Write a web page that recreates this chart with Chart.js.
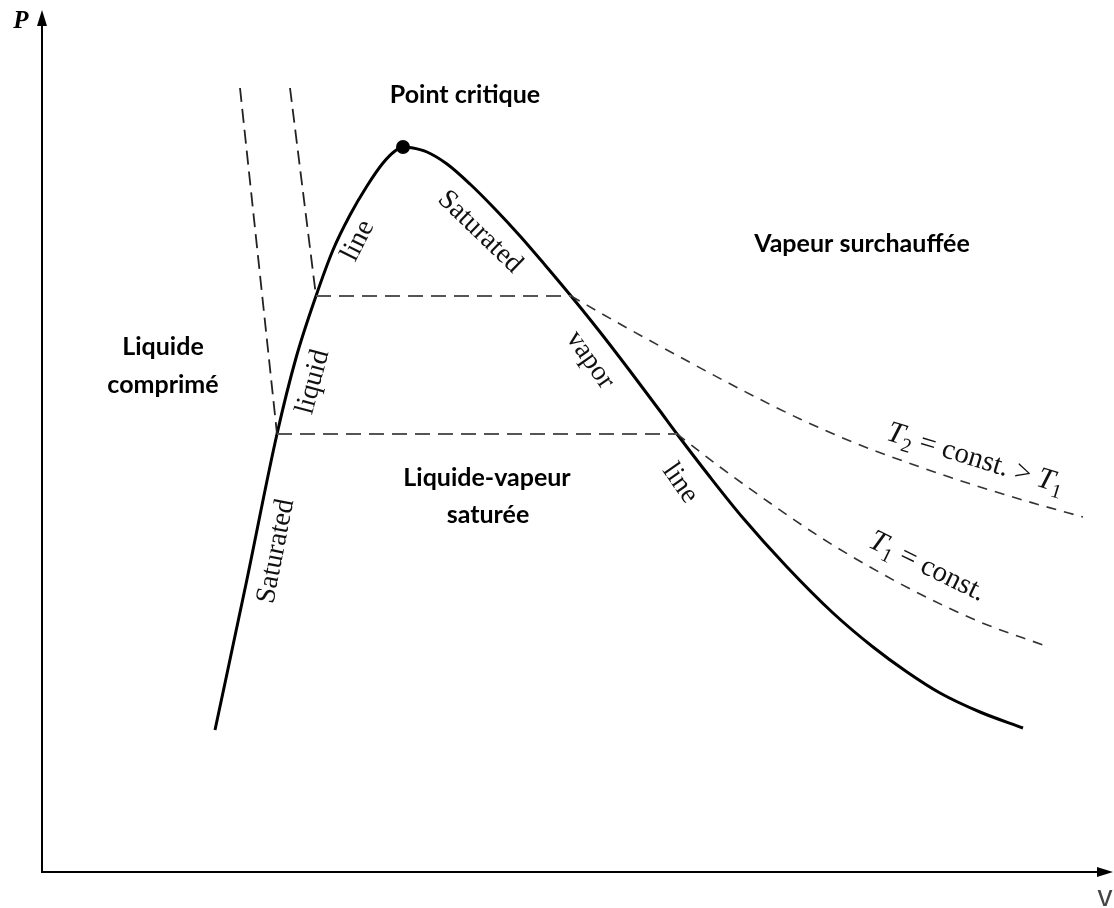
<!DOCTYPE html>
<html>
<head>
<meta charset="utf-8">
<title>Diagramme P-v</title>
<script src="https://cdn.jsdelivr.net/npm/chart.js@4.4.1/dist/chart.umd.min.js"></script>
<style>
  html, body { margin: 0; padding: 0; background: #ffffff; }
  #wrap { position: relative; width: 1114px; height: 908px; }
</style>
</head>
<body>
<div id="wrap"><canvas id="pv"></canvas></div>
<script>
// Saturation dome (specific volume v, pressure P, arbitrary units)
const domeV = [17.3, 20.4, 23.5, 25.4, 27.4, 29.1, 30.8, 32.5, 34.1, 35.3, 36.1, 37.1, 38.5, 40.5, 42.8, 45.3, 47.8, 50.3, 52.9, 55.8, 58.8, 61.8, 63.5, 66.8, 70.1, 74.5, 79.1, 83.1, 86.5, 89.8, 93.8, 98.1];
const domeP = [17.75, 36.0, 54.75, 64.25, 72.0, 77.75, 82.125, 85.75, 88.625, 90.125, 90.625, 90.5, 90.0, 88.5, 86.0, 82.875, 79.5, 75.875, 72.0, 67.5, 62.625, 57.625, 54.75, 49.375, 44.25, 38.125, 32.375, 28.125, 25.0, 22.375, 20.0, 18.0];

// Critical point
const criticalV = [36.1];
const criticalP = [90.625];

// Isotherm T2 (higher temperature)
const t2LiquidV = [24.8, 27.4];
const t2LiquidP = [98.0, 72.0];
const t2MixV = [27.4, 52.9];
const t2MixP = [72.0, 72.0];
const t2VaporV = [52.9, 57.8, 63.8, 69.8, 75.8, 81.8, 87.8, 93.8, 99.8, 104.1];
const t2VaporP = [72.0, 68.5, 64.375, 60.375, 56.625, 53.375, 50.625, 48.125, 45.875, 44.375];

// Isotherm T1
const t1LiquidV = [19.8, 23.5];
const t1LiquidP = [98.0, 54.75];
const t1MixV = [23.5, 63.5];
const t1MixP = [54.75, 54.75];
const t1VaporV = [63.5, 67.8, 72.8, 77.8, 82.8, 87.8, 93.8, 100.1];
const t1VaporP = [54.75, 50.625, 46.125, 41.875, 38.125, 34.75, 31.25, 28.375];

const pts = (xs, ys) => xs.map((x, i) => ({ x: x, y: ys[i] }));

// Region names (bold sans) and curve captions (serif)
const regionLabels = [
  { text: 'Point critique', v: 42.3, p: 97.1 },
  { text: 'Vapeur surchauffée', v: 82.0, p: 78.5 },
  { text: 'Liquide', v: 12.1, p: 65.6 },
  { text: 'comprimé', v: 12.1, p: 60.9 },
  { text: 'Liquide-vapeur', v: 44.5, p: 49.25 },
  { text: 'saturée', v: 44.6, p: 44.6 }
];
const curveLabels = [
  { text: 'Saturated', v: 23.4, p: 40.1, rot: -79 },
  { text: 'liquid', v: 27.1, p: 61.25, rot: -75 },
  { text: 'line', v: 31.6, p: 78.9, rot: -63 },
  { text: 'Saturated', v: 43.8, p: 80.0, rot: 44 },
  { text: 'vapor', v: 54.8, p: 64.0, rot: 55 },
  { text: 'line', v: 63.8, p: 48.6, rot: 55 }
];
const isothermLabels = [
  { parts: [['T', 'it'], ['2', 'sub'], [' = const. > ', 'rm'], ['T', 'it'], ['1', 'sub']], v: 93.4, p: 51.9, rot: 17 },
  { parts: [['T', 'it'], ['1', 'sub'], [' = const.', 'rm']], v: 88.6, p: 38.4, rot: 26 }
];

const SERIF = '"Liberation Serif", "DejaVu Serif", serif';
const SANS = 'Lato, "Open Sans", sans-serif';

const decorations = {
  id: 'decorations',
  afterDatasetsDraw(chart) {
    const ctx = chart.ctx;
    const xs = chart.scales.x, ys = chart.scales.y;
    const x0 = xs.getPixelForValue(0), y0 = ys.getPixelForValue(0);
    const yTop = ys.getPixelForValue(ys.max) - 14;
    const xEnd = xs.getPixelForValue(xs.max) + 11;

    ctx.save();
    // axes with arrow heads
    ctx.strokeStyle = '#000';
    ctx.fillStyle = '#000';
    ctx.lineWidth = 2;
    ctx.beginPath();
    ctx.moveTo(x0, y0 + 1);
    ctx.lineTo(x0, yTop + 10);
    ctx.moveTo(x0 - 1, y0);
    ctx.lineTo(xEnd - 10, y0);
    ctx.stroke();
    ctx.beginPath();
    ctx.moveTo(x0, yTop);
    ctx.lineTo(x0 - 5, yTop + 16);
    ctx.lineTo(x0 + 5, yTop + 16);
    ctx.closePath();
    ctx.fill();
    ctx.beginPath();
    ctx.moveTo(xEnd, y0);
    ctx.lineTo(xEnd - 16, y0 - 5);
    ctx.lineTo(xEnd - 16, y0 + 5);
    ctx.closePath();
    ctx.fill();

    // axis names
    ctx.textAlign = 'center';
    ctx.textBaseline = 'middle';
    ctx.font = 'bold italic 25px ' + SERIF;
    ctx.fillText('P', x0 - 21, yTop + 12);
    ctx.fillStyle = '#444';
    ctx.font = '30px "Liberation Sans", Arial, sans-serif';
    ctx.fillText('v', xEnd - 8, y0 + 26);

    // region names
    ctx.fillStyle = '#000';
    ctx.font = 'bold 25px ' + SANS;
    regionLabels.forEach(l => {
      ctx.fillText(l.text, xs.getPixelForValue(l.v), ys.getPixelForValue(l.p));
    });

    // captions along the saturation curve
    ctx.fillStyle = '#111';
    ctx.font = '28px ' + SERIF;
    curveLabels.forEach(l => {
      ctx.save();
      ctx.translate(xs.getPixelForValue(l.v), ys.getPixelForValue(l.p));
      ctx.rotate(l.rot * Math.PI / 180);
      ctx.fillText(l.text, 0, 0);
      ctx.restore();
    });

    // isotherm captions with italic symbols and subscripts
    const fonts = { it: 'italic 30px ' + SERIF, rm: '29px ' + SERIF, sub: '20px ' + SERIF };
    ctx.textAlign = 'left';
    ctx.textBaseline = 'alphabetic';
    isothermLabels.forEach(l => {
      let total = 0;
      const widths = l.parts.map(([t, k]) => { ctx.font = fonts[k]; const w = ctx.measureText(t).width; total += w; return w; });
      ctx.save();
      ctx.translate(xs.getPixelForValue(l.v), ys.getPixelForValue(l.p));
      ctx.rotate(l.rot * Math.PI / 180);
      let x = -total / 2;
      l.parts.forEach(([t, k], i) => {
        ctx.font = fonts[k];
        ctx.fillText(t, x, k === 'sub' ? 16 : 10);
        x += widths[i];
      });
      ctx.restore();
    });
    ctx.restore();
  }
};

const dashedLiquid = { borderColor: '#222', borderWidth: 1.8, borderDash: [14, 7], pointRadius: 0, tension: 0 };
const dashedMix = { borderColor: '#555', borderWidth: 2, borderDash: [15, 8], pointRadius: 0, tension: 0 };
const dashedVapor = { borderColor: '#333', borderWidth: 1.6, borderDash: [10, 8], pointRadius: 0, cubicInterpolationMode: 'monotone' };

new Chart(document.getElementById('pv'), {
  type: 'scatter',
  data: {
    datasets: [
      Object.assign({ label: 'T2 liquide', data: pts(t2LiquidV, t2LiquidP), showLine: true }, dashedLiquid),
      Object.assign({ label: 'T1 liquide', data: pts(t1LiquidV, t1LiquidP), showLine: true }, dashedLiquid),
      Object.assign({ label: 'T2 mélange', data: pts(t2MixV, t2MixP), showLine: true }, dashedMix),
      Object.assign({ label: 'T1 mélange', data: pts(t1MixV, t1MixP), showLine: true }, dashedMix),
      Object.assign({ label: 'T2 vapeur', data: pts(t2VaporV, t2VaporP), showLine: true }, dashedVapor),
      Object.assign({ label: 'T1 vapeur', data: pts(t1VaporV, t1VaporP), showLine: true }, dashedVapor),
      {
        label: 'Courbe de saturation', data: pts(domeV, domeP), showLine: true,
        borderColor: '#000', borderWidth: 3, pointRadius: 0, cubicInterpolationMode: 'monotone'
      },
      {
        label: 'Point critique', data: pts(criticalV, criticalP), showLine: false,
        pointRadius: 7, pointBackgroundColor: '#000', pointBorderColor: '#000', pointBorderWidth: 0
      }
    ]
  },
  options: {
    responsive: true,
    maintainAspectRatio: false,
    animation: false,
    devicePixelRatio: 1,
    layout: { padding: { left: 42, right: 12, top: 24, bottom: 36 } },
    scales: {
      x: { type: 'linear', min: 0, max: 106, display: false },
      y: { type: 'linear', min: 0, max: 106, display: false }
    },
    plugins: { legend: { display: false }, tooltip: { enabled: false } },
    elements: { line: { borderCapStyle: 'butt' } }
  },
  plugins: [decorations]
});
</script>
</body>
</html>
